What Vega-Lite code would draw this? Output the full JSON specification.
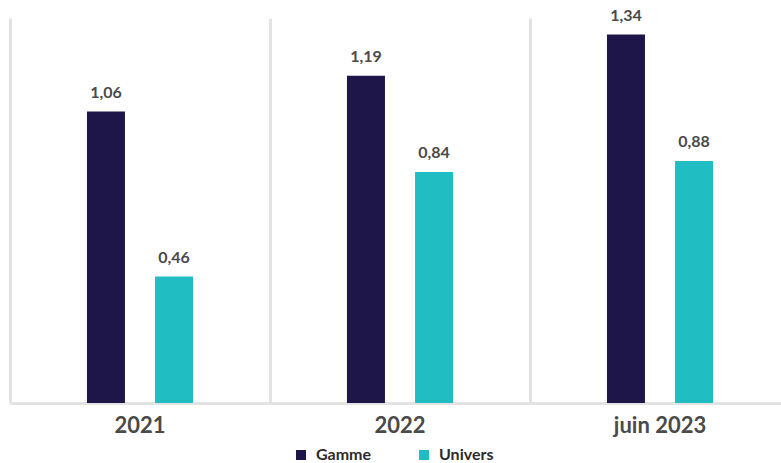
{
  "$schema": "https://vega.github.io/schema/vega-lite/v6.json",
  "autosize": "none",
  "width": 771,
  "height": 385,
  "padding": {"left": 10, "top": 18, "right": 0, "bottom": 60},
  "background": "white",
  "config": {
    "view": {"stroke": null},
    "locale": {"number": {"decimal": ",", "thousands": " ", "grouping": [3], "currency": ["", " €"]}},
    "font": "Lato"
  },
  "data": {
    "values": [
      {"annee": "2021", "serie": "Gamme", "valeur": 1.06},
      {"annee": "2021", "serie": "Univers", "valeur": 0.46},
      {"annee": "2022", "serie": "Gamme", "valeur": 1.19},
      {"annee": "2022", "serie": "Univers", "valeur": 0.84},
      {"annee": "juin 2023", "serie": "Gamme", "valeur": 1.34},
      {"annee": "juin 2023", "serie": "Univers", "valeur": 0.88}
    ]
  },
  "encoding": {
    "x": {
      "field": "annee", "type": "nominal", "sort": null,
      "scale": {"range": [0, 780], "paddingInner": 0, "paddingOuter": 0},
      "axis": {
        "title": null, "labelAngle": 0, "grid": true, "bandPosition": 0,
        "gridColor": "#e3e3e3", "gridWidth": 3,
        "domainColor": "#e3e3e3", "domainWidth": 3,
        "ticks": false, "labelPadding": 12,
        "labelFont": "Lato", "labelFontSize": 22, "labelFontWeight": "bold",
        "labelColor": "#4a4a4a"
      }
    },
    "xOffset": {
      "field": "serie", "type": "nominal",
      "scale": {"paddingInner": 0.18, "paddingOuter": 1}
    },
    "y": {
      "field": "valeur", "type": "quantitative",
      "scale": {"domain": [0, 1.4], "nice": false},
      "axis": null
    }
  },
  "layer": [
    {
      "mark": {"type": "bar", "width": 38},
      "encoding": {
        "color": {
          "field": "serie", "type": "nominal",
          "scale": {"domain": ["Gamme", "Univers"], "range": ["#1e1548", "#20bec2"]},
          "legend": {
            "title": null, "orient": "none", "direction": "horizontal",
            "legendX": 283, "legendY": 429,
            "symbolType": "square", "symbolSize": 100, "symbolStrokeWidth": 0,
            "labelFont": "Lato", "labelFontSize": 16, "labelFontWeight": "bold",
            "labelColor": "#2b2b2b", "labelOffset": 7, "columnPadding": 44
          }
        }
      }
    },
    {
      "mark": {"type": "text", "baseline": "alphabetic", "dy": -14, "font": "Lato", "fontSize": 16, "fontWeight": "bold", "color": "#4a4a4a"},
      "encoding": {
        "text": {"field": "valeur", "type": "quantitative", "format": ".2f"}
      }
    }
  ]
}
